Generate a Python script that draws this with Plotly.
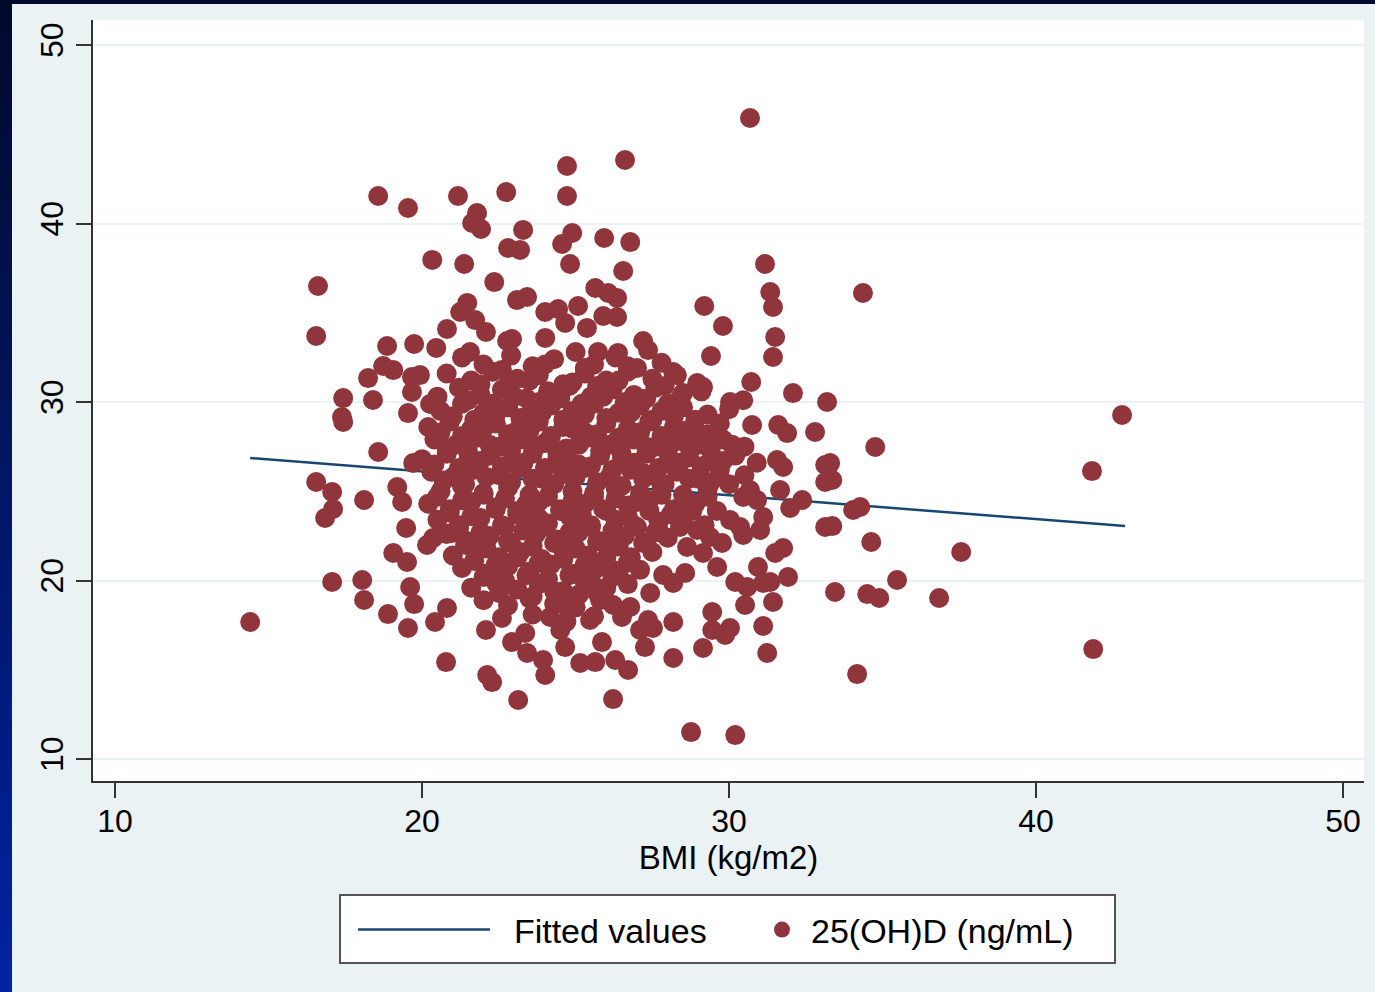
import plotly.graph_objects as go

# ---------------- data ----------------
x_ticks = [10, 20, 30, 40, 50]
y_ticks = [10, 20, 30, 40, 50]

# fitted regression line (end points)
fit_bmi = [14.4, 42.9]
fit_vitd = [26.86, 23.05]

# scattered (outer) observations: (BMI, 25(OH)D)
outer_points = [
    (30.68, 45.91), (26.61, 43.56), (24.72, 43.22), (18.57, 41.54), (19.54, 40.87),
    (21.17, 41.54), (22.74, 41.76), (24.72, 41.54), (21.79, 40.59), (21.63, 40.03),
    (21.92, 39.69), (23.29, 39.64), (22.80, 38.63), (23.19, 38.52), (20.33, 37.96),
    (21.37, 37.73), (24.89, 39.47), (24.56, 38.85), (25.93, 39.19), (26.78, 38.96),
    (24.82, 37.73), (26.55, 37.34), (31.17, 37.73), (16.61, 36.50), (22.35, 36.72),
    (23.09, 35.71), (23.42, 35.88), (21.47, 35.55), (21.24, 35.04), (21.73, 34.59),
    (20.81, 34.09), (22.08, 33.92), (22.77, 33.42), (22.93, 33.53), (16.55, 33.70),
    (18.86, 33.14), (19.74, 33.25), (20.46, 33.03), (21.56, 32.80), (18.73, 32.02),
    (19.06, 31.79), (18.24, 31.34), (19.67, 31.40), (19.93, 31.51), (19.67, 30.56),
    (17.43, 30.22), (18.40, 30.11), (17.39, 29.16), (19.54, 29.38), (20.26, 29.89),
    (31.34, 36.16), (31.43, 35.32), (31.50, 33.64), (31.43, 32.52), (29.19, 35.38),
    (29.80, 34.26), (29.41, 32.58), (30.72, 31.12), (32.08, 30.50), (33.19, 30.00),
    (25.64, 36.39), (26.06, 36.11), (26.35, 35.83), (25.08, 35.38), (24.01, 35.04),
    (24.43, 35.21), (24.66, 34.43), (25.90, 34.82), (26.35, 34.76), (25.37, 34.15),
    (27.20, 33.42), (27.36, 32.91), (28.18, 31.68), (24.01, 33.59), (25.73, 32.80),
    (26.38, 32.75), (34.36, 36.11), (42.80, 29.27), (34.76, 27.48), (33.29, 26.58),
    (33.36, 25.63), (41.82, 26.13), (34.04, 23.95), (34.27, 24.12), (33.36, 23.05),
    (34.63, 22.16), (37.56, 21.60), (35.47, 20.03), (33.45, 19.36), (34.50, 19.24),
    (34.89, 19.02), (36.84, 19.02), (41.86, 16.16), (34.17, 14.76), (17.43, 28.88),
    (18.57, 27.20), (16.55, 25.52), (17.07, 24.96), (18.11, 24.51), (17.10, 24.01),
    (16.84, 23.50), (19.19, 25.24), (19.35, 24.40), (19.71, 26.58), (19.48, 22.94),
    (19.06, 21.54), (19.51, 21.04), (17.07, 19.92), (18.05, 20.03), (18.11, 18.91),
    (14.40, 17.68), (18.89, 18.12), (19.61, 19.64), (19.74, 18.68), (19.54, 17.34),
    (20.42, 17.68), (20.81, 18.46), (20.16, 21.99), (20.36, 22.38), (20.98, 22.66),
    (20.78, 15.43), (22.08, 17.23), (22.12, 14.71), (22.28, 14.31), (22.93, 16.55),
    (23.13, 13.31), (23.36, 17.06), (23.42, 15.94), (32.80, 28.32), (33.13, 26.47),
    (33.13, 25.52), (33.13, 23.00), (31.89, 28.26), (31.60, 28.71), (30.75, 28.71),
    (31.76, 26.36), (31.56, 26.75), (32.38, 24.51), (31.66, 25.07), (31.99, 24.06),
    (30.68, 25.07), (30.46, 24.68), (30.91, 24.51), (31.11, 23.56), (31.01, 22.83),
    (30.46, 22.55), (30.36, 23.00), (31.50, 21.54), (31.76, 21.82), (30.94, 20.76),
    (31.92, 20.20), (31.43, 18.80), (30.20, 19.92), (30.59, 19.64), (31.11, 19.86),
    (31.34, 19.92), (30.52, 18.63), (29.45, 18.24), (29.45, 17.23), (30.03, 17.34),
    (29.87, 16.95), (31.11, 17.45), (31.24, 15.94), (29.15, 16.22), (28.18, 15.66),
    (28.18, 17.68), (27.26, 16.27), (27.10, 17.23), (27.52, 17.34), (27.36, 17.79),
    (26.78, 18.52), (26.22, 18.63), (26.51, 17.96), (25.47, 17.79), (25.86, 16.55),
    (25.15, 15.38), (25.64, 15.43), (26.29, 15.55), (26.71, 14.99), (24.01, 14.71),
    (26.22, 13.36), (28.76, 11.51), (30.20, 11.34), (26.22, 20.59), (25.70, 19.30),
    (27.20, 26.02), (27.69, 22.94), (28.57, 20.42), (28.18, 19.86), (27.85, 20.31),
    (27.43, 19.30), (29.61, 20.76), (29.77, 22.10), (28.96, 22.83), (29.38, 22.44),
    (30.03, 23.39), (28.63, 21.88), (29.15, 21.54), (24.72, 18.52), (24.17, 17.96),
    (24.50, 17.23), (24.66, 16.27), (23.94, 15.55), (30.03, 30.00), (30.46, 30.10),
    (29.15, 30.84), (28.96, 31.06), (28.50, 30.50),
]

# dense central cloud of observations: (BMI, 25(OH)D)
core_points = [
    (21.3, 32.5), (22.0, 32.1), (22.9, 32.6), (23.6, 32.0), (24.3, 32.4), (25.0, 32.8),
    (25.6, 32.1), (26.3, 32.5), (27.0, 31.9), (27.8, 32.2),
    (20.8, 31.6), (21.6, 31.2), (22.3, 31.7), (23.1, 31.3), (23.8, 31.5), (24.6, 31.0),
    (25.3, 31.6), (26.0, 31.2), (26.7, 31.7), (27.5, 31.3), (28.3, 31.5),
    (20.5, 30.3), (21.2, 30.8), (21.9, 30.4), (22.6, 30.7), (23.4, 30.2), (24.1, 30.6),
    (24.8, 30.9), (25.5, 30.3), (26.2, 30.7), (26.9, 30.4), (27.6, 30.8), (28.4, 30.2),
    (29.1, 30.6),
    (20.6, 29.5), (21.3, 29.9), (22.0, 29.4), (22.8, 29.7), (23.5, 29.3), (24.2, 29.8),
    (24.9, 29.5), (25.6, 29.9), (26.4, 29.4), (27.1, 29.8), (27.8, 29.5), (28.5, 29.7),
    (29.3, 29.3), (30.0, 29.6),
    (20.2, 28.6), (20.9, 28.9), (21.6, 28.5), (22.4, 28.8), (23.1, 28.4), (23.8, 28.9),
    (24.6, 28.6), (25.3, 28.3), (26.0, 28.8), (26.7, 28.5), (27.4, 28.9), (28.2, 28.6),
    (28.9, 28.3), (29.7, 28.8),
    (20.4, 27.9), (21.1, 27.6), (21.8, 28.0), (22.5, 27.5), (23.3, 27.9), (24.0, 27.7),
    (24.7, 27.4), (25.4, 28.0), (26.1, 27.6), (26.9, 27.9), (27.6, 27.5), (28.3, 27.8),
    (29.0, 27.6), (29.8, 27.9), (30.5, 27.5),
    (20.0, 26.8), (20.8, 27.1), (21.5, 26.7), (22.2, 27.0), (22.9, 26.6), (23.6, 27.1),
    (24.4, 26.8), (25.1, 26.5), (25.8, 27.0), (26.5, 26.7), (27.3, 27.1), (28.0, 26.6),
    (28.7, 26.9), (29.4, 26.7), (30.2, 27.0), (30.9, 26.6),
    (20.3, 26.1), (21.0, 25.8), (21.7, 26.2), (22.5, 25.9), (23.2, 26.3), (23.9, 25.7),
    (24.6, 26.0), (25.3, 26.3), (26.1, 25.8), (26.8, 26.2), (27.5, 25.9), (28.3, 26.1),
    (29.0, 25.7), (29.7, 26.2), (30.5, 25.9),
    (20.6, 25.0), (21.3, 25.3), (22.0, 24.9), (22.8, 25.2), (23.5, 24.8), (24.2, 25.3),
    (24.9, 25.0), (25.6, 24.7), (26.3, 25.2), (27.1, 24.9), (27.8, 25.3), (28.5, 24.8),
    (29.3, 25.1), (30.0, 25.4),
    (20.2, 24.3), (20.9, 24.0), (21.6, 24.4), (22.4, 24.1), (23.1, 23.9), (23.8, 24.4),
    (24.5, 24.0), (25.3, 24.3), (26.0, 23.9), (26.7, 24.2), (27.4, 24.5), (28.2, 24.0),
    (28.9, 24.3), (29.6, 23.9),
    (20.5, 23.4), (21.2, 23.1), (21.9, 23.5), (22.7, 23.0), (23.4, 23.4), (24.1, 23.2),
    (24.8, 23.6), (25.5, 23.1), (26.3, 23.4), (27.0, 23.0), (27.7, 23.3), (28.5, 23.5),
    (29.2, 23.1),
    (20.8, 22.6), (21.5, 22.2), (22.2, 22.5), (22.9, 22.1), (23.7, 22.6), (24.4, 22.3),
    (25.1, 22.7), (25.8, 22.2), (26.6, 22.5), (27.3, 22.1), (28.0, 22.4),
    (21.0, 21.4), (21.7, 21.7), (22.5, 21.3), (23.2, 21.6), (23.9, 21.2), (24.6, 21.7),
    (25.4, 21.4), (26.1, 21.8), (26.8, 21.3), (27.5, 21.6),
    (21.3, 20.7), (22.1, 20.4), (22.8, 20.8), (23.5, 20.5), (24.2, 20.9), (25.0, 20.4),
    (25.7, 20.7), (26.4, 20.3), (27.1, 20.6),
    (21.6, 19.6), (22.4, 19.9), (23.1, 19.5), (23.8, 19.8), (24.6, 19.4), (25.3, 19.9),
    (26.0, 19.6), (26.7, 19.8),
    (22.0, 18.9), (22.8, 18.6), (23.5, 19.0), (24.3, 18.7), (25.0, 18.5), (25.8, 18.9),
    (22.6, 17.9), (23.6, 18.1), (24.7, 17.7), (25.6, 18.0),
]

# second (interleaved) layer of the dense centre
inner_points = [
    (22.6, 31.8), (24.0, 32.1), (25.3, 31.9), (26.7, 32.0),
    (21.9, 31.0), (22.7, 30.8), (23.5, 31.2), (24.9, 31.1), (25.7, 30.9), (26.4, 31.2),
    (27.9, 30.9),
    (21.5, 30.1), (22.3, 29.9), (23.0, 30.3), (23.8, 30.0), (24.5, 30.2), (25.2, 29.9),
    (25.9, 30.3), (26.6, 30.0), (27.3, 30.2), (28.0, 29.9),
    (21.0, 29.2), (21.7, 29.0), (22.4, 29.3), (23.2, 29.1), (23.9, 29.4), (24.6, 29.0),
    (25.3, 29.3), (26.0, 29.1), (26.8, 29.4), (27.5, 29.0), (28.2, 29.2), (28.9, 29.0),
    (20.6, 28.3), (21.3, 28.1), (22.0, 28.5), (22.8, 28.2), (23.5, 28.4), (24.2, 28.1),
    (24.9, 28.5), (25.7, 28.2), (26.4, 28.0), (27.1, 28.3), (27.8, 28.1), (28.6, 28.4),
    (29.3, 28.2),
    (20.8, 27.4), (21.5, 27.2), (22.2, 27.6), (22.9, 27.3), (23.7, 27.5), (24.4, 27.2),
    (25.1, 27.6), (25.8, 27.3), (26.5, 27.1), (27.3, 27.5), (28.0, 27.2), (28.7, 27.5),
    (29.4, 27.3), (30.1, 27.6),
    (20.4, 26.5), (21.2, 26.3), (21.9, 26.7), (22.6, 26.4), (23.3, 26.6), (24.0, 26.3),
    (24.8, 26.7), (25.5, 26.4), (26.2, 26.2), (26.9, 26.6), (27.7, 26.3), (28.4, 26.6),
    (29.1, 26.4), (29.8, 26.7),
    (20.7, 25.6), (21.4, 25.4), (22.1, 25.8), (22.9, 25.5), (23.6, 25.7), (24.3, 25.4),
    (25.0, 25.8), (25.7, 25.5), (26.5, 25.3), (27.2, 25.7), (27.9, 25.4), (28.7, 25.7),
    (29.4, 25.5),
    (20.5, 24.7), (21.3, 24.5), (22.0, 24.8), (22.7, 24.6), (23.4, 24.3), (24.1, 24.7),
    (24.9, 24.5), (25.6, 24.9), (26.3, 24.6), (27.0, 24.4), (27.8, 24.8), (28.6, 24.5),
    (29.3, 24.7),
    (20.9, 23.8), (21.6, 23.6), (22.4, 24.0), (23.1, 23.7), (23.8, 23.5), (24.5, 23.9),
    (25.2, 23.7), (25.9, 24.0), (26.7, 23.6), (27.4, 23.9), (28.1, 23.7), (28.8, 23.9),
    (21.2, 22.9), (21.9, 22.7), (22.6, 23.1), (23.3, 22.8), (24.0, 23.0), (24.8, 22.7),
    (25.5, 23.0), (26.2, 22.8), (26.9, 23.1), (27.6, 22.7), (28.4, 23.0),
    (21.4, 22.0), (22.1, 21.8), (22.8, 22.2), (23.6, 21.9), (24.3, 22.1), (25.0, 21.8),
    (25.7, 22.2), (26.4, 21.9), (27.2, 22.1),
    (21.7, 21.1), (22.4, 20.9), (23.1, 21.3), (23.8, 21.0), (24.6, 21.2), (25.3, 20.9),
    (26.0, 21.3), (26.7, 21.0),
    (22.0, 20.2), (22.7, 20.0), (23.4, 20.3), (24.1, 20.1), (24.8, 20.3), (25.5, 20.0),
    (26.2, 20.2),
    (22.5, 19.3), (23.6, 19.1), (24.3, 19.4), (25.1, 19.2), (25.9, 19.1),
]

points = outer_points + core_points + inner_points
bmi = [p[0] for p in points]
vitd = [p[1] for p in points]

# ---------------- styling ----------------
FONT = "Liberation Sans, Arial, Helvetica, sans-serif"
BG = "#eaf2f3"
W, H = 1375, 992
ML, MR, MT, MB = 93, 11, 20, 211
PW, PH = W - ML - MR, H - MT - MB


def px_x(p):
    return (p - ML) / PW


def px_y(q):
    return (H - MB - q) / PH


fig = go.Figure()
fig.add_trace(go.Scatter(
    x=fit_bmi, y=fit_vitd, mode="lines", name="\u00a0\u00a0Fitted values",
    line=dict(color="#1a476f", width=2.5), legend="legend",
))
fig.add_trace(go.Scatter(
    x=bmi, y=vitd, mode="markers", name="25(OH)D (ng/mL)",
    marker=dict(color="#90353b", size=20, line=dict(width=0)), legend="legend2",
))

shapes = []
# dark blue gradient frame (left strip + top strip)
n = 30
top_c = (2, 10, 44)
bot_c = (0, 34, 160)
for i in range(n):
    t = i / (n - 1)
    c = tuple(int(round(top_c[k] + (bot_c[k] - top_c[k]) * t)) for k in range(3))
    y_top = i * H / n
    y_bot = (i + 1) * H / n
    shapes.append(dict(
        type="rect", xref="paper", yref="paper", layer="above",
        x0=px_x(0), x1=px_x(12), y0=px_y(y_bot + 1), y1=px_y(y_top),
        fillcolor="rgb(%d,%d,%d)" % c, line=dict(width=0),
    ))
shapes.append(dict(
    type="rect", xref="paper", yref="paper", layer="above",
    x0=px_x(0), x1=px_x(W), y0=px_y(4), y1=px_y(0),
    fillcolor="rgb(2,10,44)", line=dict(width=0),
))
# legend box
shapes.append(dict(
    type="rect", xref="paper", yref="paper", layer="above",
    x0=px_x(340), x1=px_x(1115), y0=px_y(963), y1=px_y(895),
    fillcolor="white", line=dict(color="#555555", width=2),
))

fig.update_layout(
    width=W, height=H,
    margin=dict(l=ML, r=MR, t=MT, b=MB, autoexpand=False),
    paper_bgcolor=BG, plot_bgcolor="white",
    font=dict(family=FONT, color="black"),
    shapes=shapes,
    showlegend=True,
    legend=dict(
        x=px_x(353), xanchor="left", y=px_y(930), yanchor="middle",
        orientation="h", bgcolor="rgba(0,0,0,0)", borderwidth=0,
        itemwidth=132, font=dict(size=34, family=FONT, color="black"),
    ),
    legend2=dict(
        x=px_x(753), xanchor="left", y=px_y(930), yanchor="middle",
        orientation="h", bgcolor="rgba(0,0,0,0)", borderwidth=0,
        itemwidth=48, font=dict(size=34, family=FONT, color="black"),
    ),
    xaxis=dict(
        range=[9.28, 50.68], tickvals=x_ticks, ticktext=[str(v) for v in x_ticks],
        ticks="outside", ticklen=15, tickwidth=2, tickcolor="#333333",
        showline=True, linecolor="#333333", linewidth=2,
        showgrid=False, zeroline=False,
        tickfont=dict(size=32, family=FONT, color="black"),
        ticklabelstandoff=-4,
        title=dict(text="BMI (kg/m2)", font=dict(size=33, family=FONT, color="black"), standoff=4),
        automargin=False,
    ),
    yaxis=dict(
        range=[8.77, 51.4], tickvals=y_ticks, ticktext=[str(v) for v in y_ticks],
        tickangle=-90,
        ticks="outside", ticklen=15, tickwidth=2, tickcolor="#333333",
        showline=True, linecolor="#333333", linewidth=2,
        showgrid=True, gridcolor=BG, gridwidth=2, zeroline=False,
        tickfont=dict(size=32, family=FONT, color="black"),
        automargin=False,
    ),
)

fig.write_html("out.html")
